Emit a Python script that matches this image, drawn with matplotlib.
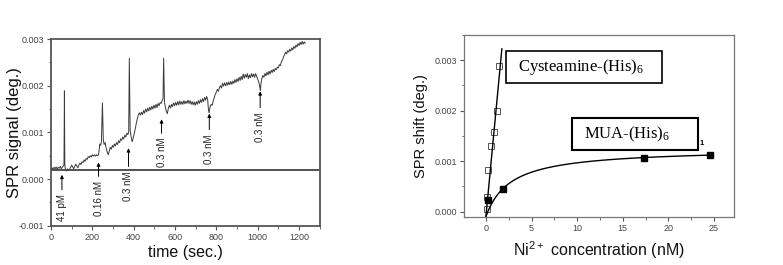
import numpy as np
import matplotlib
matplotlib.use("Agg")
import matplotlib.pyplot as plt
from matplotlib.patches import Rectangle
from matplotlib.ticker import MultipleLocator, FormatStrFormatter

plt.rcParams['font.family'] = ['Liberation Sans', 'DejaVu Sans']

# ---- left panel: SPR signal vs time (signal in mdeg) ----
time_s = [0, 5, 10, 15, 20, 25, 30, 35, 40, 45, 50, 55, 60, 63, 65, 67, 70, 75, 80, 85,
          90, 95, 100, 105, 110, 115, 120, 125, 130, 135, 140, 145, 150, 155, 160, 165, 170, 175, 180, 185,
          190, 195, 200, 205, 210, 215, 220, 225, 230, 233, 236, 240, 244, 249, 253, 257, 262, 267, 272, 277,
          282, 287, 292, 297, 302, 307, 312, 317, 322, 327, 332, 337, 342, 347, 352, 357, 362, 367, 372, 376,
          379, 383, 388, 393, 398, 403, 408, 413, 418, 423, 428, 433, 438, 443, 448, 453, 458, 463, 468, 473,
          478, 483, 488, 493, 498, 503, 508, 513, 518, 523, 528, 533, 538, 542, 545, 549, 553, 558, 563, 568,
          573, 578, 583, 588, 593, 598, 603, 608, 613, 618, 623, 628, 633, 638, 643, 648, 653, 658, 663, 668,
          673, 678, 683, 688, 693, 698, 703, 708, 713, 718, 723, 728, 733, 738, 743, 748, 753, 758, 762, 765,
          770, 775, 780, 785, 790, 795, 800, 805, 810, 815, 820, 825, 830, 835, 840, 845, 850, 855, 860, 865,
          870, 875, 880, 885, 890, 895, 900, 905, 910, 915, 920, 925, 930, 935, 940, 945, 950, 955, 960, 965,
          970, 975, 980, 985, 990, 995, 1000, 1005, 1010, 1013, 1016, 1020, 1025, 1030, 1035, 1040, 1045, 1050, 1055, 1060,
          1065, 1070, 1075, 1080, 1085, 1090, 1095, 1100, 1105, 1110, 1115, 1120, 1125, 1130, 1135, 1140, 1145, 1150, 1155, 1160,
          1165, 1170, 1175, 1180, 1185, 1190, 1195, 1200, 1205, 1210, 1215, 1220, 1225, 1230]
signal_mdeg = [0.20, 0.24, 0.21, 0.25, 0.22, 0.26, 0.21, 0.25, 0.23, 0.27, 0.22, 0.25, 0.28, 0.30, 1.89, 0.30, 0.20, 0.17, 0.22, 0.18,
               0.21, 0.25, 0.30, 0.26, 0.22, 0.27, 0.32, 0.28, 0.24, 0.30, 0.34, 0.31, 0.37, 0.35, 0.41, 0.38, 0.44, 0.42, 0.48, 0.46,
               0.50, 0.47, 0.52, 0.49, 0.52, 0.49, 0.52, 0.50, 0.52, 0.62, 0.75, 0.72, 0.80, 1.63, 0.85, 0.74, 0.78, 0.66, 0.58, 0.52,
               0.60, 0.68, 0.64, 0.72, 0.68, 0.75, 0.71, 0.78, 0.74, 0.82, 0.78, 0.86, 0.83, 0.90, 0.86, 0.94, 0.90, 0.98, 0.95, 1.02,
               2.59, 1.05, 0.90, 0.80, 0.88, 0.98, 1.08, 1.20, 1.30, 1.38, 1.42, 1.37, 1.43, 1.38, 1.47, 1.41, 1.50, 1.44, 1.52, 1.46,
               1.54, 1.48, 1.56, 1.50, 1.58, 1.52, 1.60, 1.53, 1.62, 1.57, 1.64, 1.62, 1.68, 1.72, 2.59, 1.65, 1.55, 1.45, 1.40, 1.52,
               1.58, 1.52, 1.60, 1.55, 1.63, 1.57, 1.64, 1.58, 1.66, 1.59, 1.67, 1.60, 1.66, 1.60, 1.68, 1.61, 1.67, 1.62, 1.69, 1.62,
               1.68, 1.60, 1.66, 1.59, 1.65, 1.58, 1.66, 1.60, 1.68, 1.62, 1.70, 1.64, 1.72, 1.66, 1.75, 1.69, 1.77, 1.70, 1.48, 1.42,
               1.55, 1.60, 1.58, 1.68, 1.74, 1.82, 1.86, 1.92, 1.88, 1.96, 2.00, 1.95, 2.05, 1.99, 2.06, 2.00, 2.07, 2.01, 2.08, 2.02,
               2.09, 2.03, 2.10, 2.05, 2.13, 2.07, 2.15, 2.09, 2.18, 2.11, 2.20, 2.13, 2.25, 2.16, 2.24, 2.18, 2.26, 2.15, 2.23, 2.17,
               2.26, 2.19, 2.25, 2.18, 2.26, 2.20, 2.14, 2.08, 1.98, 1.90, 2.05, 2.15, 2.22, 2.18, 2.26, 2.21, 2.29, 2.23, 2.31, 2.25,
               2.33, 2.28, 2.35, 2.30, 2.37, 2.34, 2.40, 2.38, 2.45, 2.43, 2.52, 2.55, 2.62, 2.66, 2.72, 2.68, 2.75, 2.72, 2.78, 2.74,
               2.81, 2.77, 2.84, 2.80, 2.87, 2.83, 2.90, 2.86, 2.93, 2.88, 2.95, 2.89, 2.94, 2.91]
baseline = 0.0002

# injection arrows: time, arrow tip, arrow tail (deg), label
inject_t = [53, 230, 375, 535, 766, 1012]
inject_tip = [0.00009, 0.000355, 0.00066, 0.00128, 0.00140, 0.00188]
inject_tail = [-0.00023, 0.000056, 0.00027, 0.00098, 0.00106, 0.00153]
inject_labels = ['41 pM', '0.16 nM', '0.3 nM', '0.3 nM', '0.3 nM', '0.3 nM']

# ---- right panel: SPR shift vs Ni2+ concentration ----
cys_conc = [0.07, 0.15, 0.25, 0.55, 0.91, 1.2, 1.42]
cys_shift = [0.00006, 0.00029, 0.00082, 0.00131, 0.00158, 0.00200, 0.00289]
cys_slope, cys_icpt, cys_xmax = 0.0019, -0.0001, 1.75

mua_conc = [0.25, 1.83, 17.3, 24.6]
mua_shift = [0.00024, 0.00045, 0.00106, 0.00113]
mua_y0, mua_bmax, mua_kd = -0.0001, 0.001353, 2.674

fig = plt.figure(figsize=(7.83, 2.65), dpi=100)

# left
ax1 = fig.add_axes([0.0651, 0.1483, 0.3432, 0.7045])
t = np.array(time_s)
ax1.plot(t, np.array(signal_mdeg) / 1000, color='#3a3a3a', lw=0.7)
ax1.axhline(baseline, color='#444444', lw=1.3)
for ti, tip, tail, lab in zip(inject_t, inject_tip, inject_tail, inject_labels):
    ax1.annotate('', xy=(ti, tip), xytext=(ti, tail),
                 arrowprops=dict(arrowstyle='-|>', color='black', lw=0.7,
                                 mutation_scale=5, shrinkA=0, shrinkB=0))
    ax1.text(ti, tail - 0.0001, lab, rotation=90, ha='center', va='top',
             fontsize=7, color='#222222')
ax1.set_xlim(0, 1300)
ax1.set_ylim(-0.001, 0.003)
ax1.xaxis.set_major_locator(MultipleLocator(200))
ax1.xaxis.set_minor_locator(MultipleLocator(100))
ax1.yaxis.set_major_locator(MultipleLocator(0.001))
ax1.yaxis.set_minor_locator(MultipleLocator(0.0005))
ax1.yaxis.set_major_formatter(FormatStrFormatter('%.3f'))
ax1.set_xlabel('time (sec.)', fontsize=11.5, color='#111111')
ax1.set_ylabel('SPR signal (deg.)', fontsize=12, color='#111111')
ax1.xaxis.set_label_coords(0.5, -0.105)
ax1.yaxis.set_label_coords(-0.108, 0.5)
for s in ax1.spines.values():
    s.set_color('#555555')
    s.set_linewidth(1.3)

# right
ax2 = fig.add_axes([0.5926, 0.1823, 0.3448, 0.6856])
ax2.plot(cys_conc, cys_shift, 's', ms=3.8, mfc='white', mec='#555555', mew=0.7)
xc = np.linspace(0, cys_xmax, 50)
ax2.plot(xc, cys_icpt + cys_slope * xc, color='black', lw=1.0)
xm = np.linspace(0, 24.8, 300)
ax2.plot(xm, mua_y0 + mua_bmax * xm / (mua_kd + xm), color='black', lw=1.0)
ax2.plot(mua_conc, mua_shift, 's', ms=3.8, color='black')
ax2.set_xlim(-2.4, 27.2)
ax2.set_ylim(-0.0001, 0.0035)
ax2.xaxis.set_major_locator(MultipleLocator(5))
ax2.xaxis.set_minor_locator(MultipleLocator(2.5))
ax2.yaxis.set_major_locator(MultipleLocator(0.001))
ax2.yaxis.set_minor_locator(MultipleLocator(0.0005))
ax2.yaxis.set_major_formatter(FormatStrFormatter('%.3f'))
ax2.set_xlabel(r'Ni$\mathregular{^{2+}}$ concentration (nM)', fontsize=11.5, color='#111111')
ax2.set_ylabel('SPR shift (deg.)', fontsize=10.5, color='#111111')
ax2.xaxis.set_label_coords(0.5, -0.125)
ax2.yaxis.set_label_coords(-0.135, 0.5)
for s in ax2.spines.values():
    s.set_color('#777777')
    s.set_linewidth(0.9)

ax2.add_patch(Rectangle((0.1544, 0.7375), 0.58, 0.1761, transform=ax2.transAxes,
                        fill=False, ec='black', lw=1.2))
ax2.text(0.201, 0.825, r'Cysteamine-(His)$\mathregular{_6}$', transform=ax2.transAxes,
         fontsize=12, family='Liberation Serif', va='center', ha='left')
ax2.add_patch(Rectangle((0.401, 0.367), 0.4668, 0.1746, transform=ax2.transAxes,
                        fill=False, ec='black', lw=1.5))
ax2.text(0.4456, 0.455, r'MUA-(His)$\mathregular{_6}$', transform=ax2.transAxes,
         fontsize=12, family='Liberation Serif', va='center', ha='left')
ax2.text(0.874, 0.404, '1', transform=ax2.transAxes, fontsize=5.5,
         fontweight='bold', va='center', ha='left')

for ax in (ax1, ax2):
    ax.tick_params(which='both', direction='out', labelsize=6.5, labelcolor='#444444',
                   color='#555555', top=False, right=False, pad=2)
    ax.tick_params(which='major', length=3)
    ax.tick_params(which='minor', length=1.8)

fig.savefig('out.png', dpi=100)
